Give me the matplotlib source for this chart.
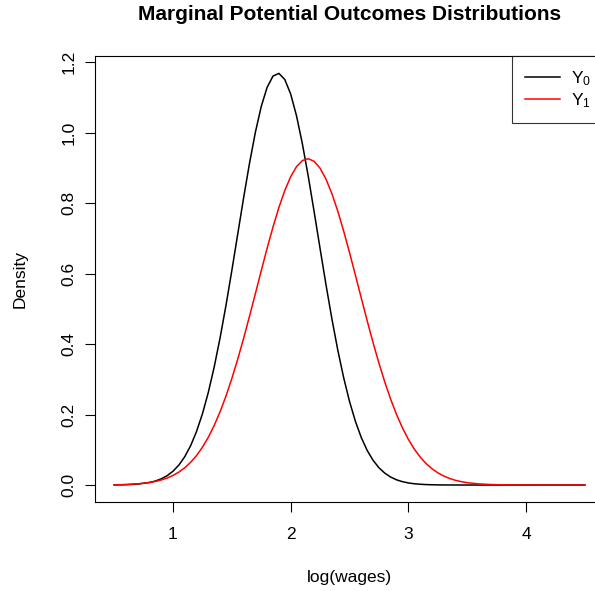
import numpy as np
import matplotlib
matplotlib.use("Agg")
import matplotlib.pyplot as plt

plt.rcParams['font.family'] = ['Liberation Sans', 'DejaVu Sans']
plt.rcParams['mathtext.fontset'] = 'custom'
plt.rcParams['mathtext.rm'] = 'Liberation Sans'
plt.rcParams['mathtext.it'] = 'Liberation Sans:italic'

# log(wages) grid
x_vals = [0.5, 0.6, 0.7, 0.8, 0.85, 0.9, 0.95, 1.0, 1.05, 1.1, 1.15, 1.2,
          1.25, 1.3, 1.35, 1.4, 1.45, 1.5, 1.55, 1.6, 1.65, 1.7,
          1.75, 1.8, 1.85, 1.9, 1.95, 2.0, 2.05, 2.1, 2.15, 2.2,
          2.25, 2.3, 2.35, 2.4, 2.45, 2.5, 2.55, 2.6, 2.65, 2.7,
          2.75, 2.8, 2.85, 2.9, 2.95, 3.0, 3.05, 3.1, 3.15, 3.2,
          3.25, 3.3, 3.35, 3.4, 3.45, 3.5, 3.6, 3.7, 3.8, 3.9,
          4.0, 4.1, 4.2, 4.3, 4.4, 4.5]

y0_dens = [0.0003, 0.0009, 0.0027, 0.0072, 0.0113, 0.0175, 0.0264, 0.0391, 0.0567, 0.0804, 0.1117, 0.1518,
           0.2018, 0.2626, 0.3347, 0.4173, 0.5093, 0.6085, 0.7117, 0.8146, 0.9126, 1.0007,
           1.0741, 1.1284, 1.1602, 1.1677, 1.1503, 1.1091, 1.0467, 0.9669, 0.8743, 0.7737,
           0.6702, 0.5682, 0.4716, 0.3831, 0.3046, 0.2370, 0.1805, 0.1346, 0.0981, 0.0701,
           0.0490, 0.0336, 0.0225, 0.0147, 0.0095, 0.0059, 0.0036, 0.0022, 0.0013, 0.0007,
           0.0004, 0.0002, 0.0001, 0.0001, 0.0, 0.0, 0.0, 0.0, 0.0, 0.0,
           0.0, 0.0, 0.0, 0.0, 0.0, 0.0]

y1_dens = [0.0006, 0.0015, 0.0034, 0.0071, 0.0101, 0.0143, 0.0198, 0.0272, 0.0367, 0.0490, 0.0644, 0.0836,
           0.1071, 0.1354, 0.1689, 0.2078, 0.2522, 0.3021, 0.3569, 0.4162, 0.4786, 0.5431,
           0.6081, 0.6719, 0.7323, 0.7875, 0.8355, 0.8747, 0.9034, 0.9206, 0.9256, 0.9181,
           0.8986, 0.8677, 0.8266, 0.7770, 0.7206, 0.6593, 0.5952, 0.5302, 0.4659, 0.4039,
           0.3456, 0.2917, 0.2429, 0.1996, 0.1618, 0.1294, 0.1021, 0.0795, 0.0611, 0.0463,
           0.0346, 0.0255, 0.0186, 0.0133, 0.0095, 0.0066, 0.0031, 0.0014, 0.0006, 0.0002,
           0.0001, 0.0, 0.0, 0.0, 0.0, 0.0]

x_ticks = [1, 2, 3, 4]
y_ticks = [0.0, 0.2, 0.4, 0.6, 0.8, 1.0, 1.2]

fig = plt.figure(figsize=(5.95, 5.91), dpi=100)
ax = fig.add_axes([0.1602, 0.1514, 0.8545, 0.7537])

ax.plot(x_vals, y0_dens, color='black', lw=1.1, label=r'$\mathregular{Y_0}$')
ax.plot(x_vals, y1_dens, color='red', lw=1.1, label=r'$\mathregular{Y_1}$')

ax.set_xlim(0.34, 4.66)
ax.set_ylim(-0.0468, 1.2168)
ax.set_xticks(x_ticks)
ax.set_xticklabels([str(t) for t in x_ticks])
ax.set_yticks(y_ticks)
ax.set_yticklabels([f"{t:.1f}" for t in y_ticks])

for s in ax.spines.values():
    s.set_linewidth(0.8)
ax.tick_params(axis='both', direction='out', length=7.5, width=0.8, labelsize=12.5)
ax.tick_params(axis='x', pad=11)
ax.tick_params(axis='y', pad=6, labelrotation=90)
for lab in ax.get_yticklabels():
    lab.set_va('center')

ax.set_xlabel('log(wages)', fontsize=12.5)
ax.xaxis.label.set_va('center')
ax.xaxis.set_label_coords(0.5, -0.1695)
ax.set_ylabel('Density', fontsize=12.5)
ax.yaxis.label.set_va('center')
ax.yaxis.set_label_coords(-0.148, 0.5)

fig.text(349.5 / 595, 1 - 15 / 591, 'Marginal Potential Outcomes Distributions',
         ha='center', va='center', fontsize=15, fontweight='bold')

leg = ax.legend(loc='upper right', bbox_to_anchor=(1, 1), borderaxespad=0,
                fontsize=12.5, frameon=True, fancybox=False, handlelength=2.0,
                labelspacing=0.2, borderpad=0.75, handletextpad=0.6)
leg.get_frame().set_edgecolor('black')
leg.get_frame().set_linewidth(0.8)

fig.savefig('out.png', dpi=100)
